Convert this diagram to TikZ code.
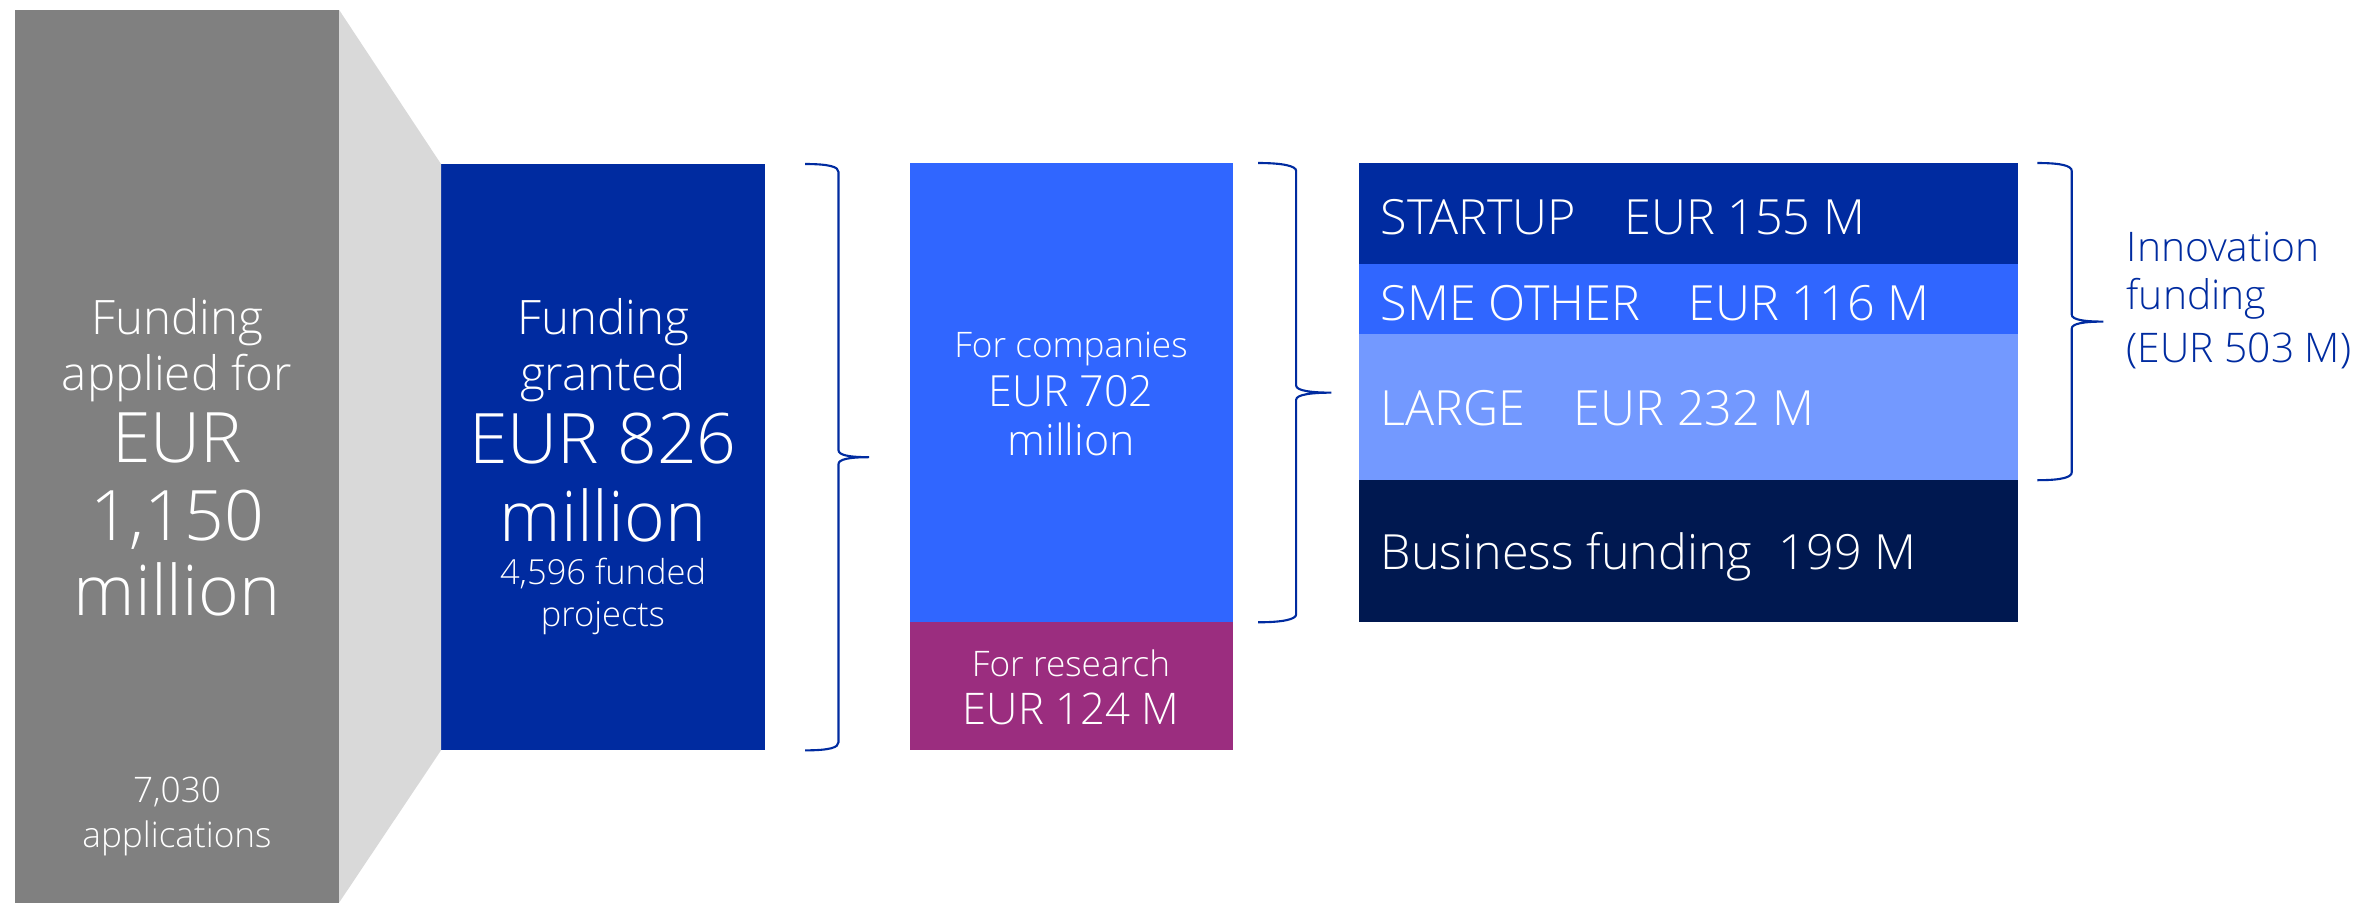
\documentclass[tikz,border=0pt]{standalone}
\usepackage{fontspec}
\setmainfont{Open Sans Light}
\usetikzlibrary{calc}
\definecolor{applgray}{HTML}{808080}
\definecolor{funnelgray}{HTML}{D9D9D9}
\definecolor{grantblue}{HTML}{002BA0}
\definecolor{compblue}{HTML}{3066FF}
\definecolor{largeblue}{HTML}{7399FF}
\definecolor{busblue}{HTML}{001850}
\definecolor{respurple}{HTML}{9B2D7F}
\def\FS#1{\fontsize{#1}{#1}\selectfont}
% brace from top point #1 to bottom point #2, tip #3 to the right
\newcommand\FundBrace[3]{%
  \draw[bracepen] let \p1=(#1), \p2=(#2), \n1={0.5*(\y1+\y2)}, \n2={\x1+0.52*#3}, \n3={\x1+#3} in
    (\p1) .. controls +(0.25cm,0) and +(0,0.05cm) .. (\n2,\y1-0.08cm)
    -- (\n2,\n1+0.07cm) .. controls +(0,-0.05cm) and +(-0.2cm,0) .. (\n3,\n1)
    .. controls +(-0.2cm,0) and +(0,0.05cm) .. (\n2,\n1-0.07cm)
    -- (\n2,\y2+0.08cm) .. controls +(0,-0.05cm) and +(0.25cm,0) .. (\p2);}

\begin{document}
\begin{tikzpicture}[x=0.01cm,y=-0.01cm,
  fundbox/.style={fill=#1,inner sep=0pt,outer sep=0pt,anchor=north west},
  wlabel/.style={text=white,inner sep=0pt,anchor=base},
  llabel/.style={text=white,inner sep=0pt,anchor=base west},
  bracepen/.style={draw=grantblue,line width=0.6pt}]
\useasboundingbox (0,0) rectangle (2367,902);
% boxes
\node[fundbox=applgray,minimum width=3.24cm,minimum height=8.92cm] (applied) at (15,10) {};
\node[fundbox=grantblue,minimum width=3.24cm,minimum height=5.86cm] (granted) at (441,164) {};
\node[fundbox=compblue,minimum width=3.23cm,minimum height=4.59cm] (companies) at (910,163) {};
\node[fundbox=respurple,minimum width=3.23cm,minimum height=1.28cm] (research) at (companies.south west) {};
\node[fundbox=grantblue,minimum width=6.59cm,minimum height=1.01cm] (startup) at (1359,163) {};
\node[fundbox=compblue,minimum width=6.59cm,minimum height=0.70cm] (sme) at (startup.south west) {};
\node[fundbox=largeblue,minimum width=6.59cm,minimum height=1.46cm] (large) at (sme.south west) {};
\node[fundbox=busblue,minimum width=6.59cm,minimum height=1.42cm] (business) at (large.south west) {};
\fill[funnelgray] (applied.north east) -- (granted.north west) -- (granted.south west) -- (applied.south east) -- cycle;
% applied for
\node[wlabel,font=\FS{13.5}] (ap1) at (177,334) {Funding};
\node[wlabel,font=\FS{13.5}] (ap2) at (177,390) {applied for};
\node[wlabel,font=\FS{19.8}] (ap3) at (177,462) {EUR};
\node[wlabel,font=\FS{19.8}] (ap4) at (177,540) {1,150};
\node[wlabel,font=\FS{19.8}] (ap5) at (177,615) {million};
\node[wlabel,font=\FS{10}] (ap6) at (177,802) {7,030};
\node[wlabel,font=\FS{10}] (ap7) at (177,847) {applications};
% granted
\node[wlabel,font=\FS{13.5}] (gr1) at (603,334) {Funding};
\node[wlabel,font=\FS{13.5}] (gr2) at (603,390) {granted};
\node[wlabel,font=\FS{19.8}] (gr3) at (603,463) {EUR 826};
\node[wlabel,font=\FS{19.8}] (gr4) at (603,541) {million};
\node[wlabel,font=\FS{9.8}] (gr5) at (603,584) {4,596 funded};
\node[wlabel,font=\FS{9.8}] (gr6) at (603,626) {projects};
% companies and research
\node[wlabel,font=\FS{10}] (co1) at (1071,357) {For companies};
\node[wlabel,font=\FS{12.2}] (co2) at (1071,406) {EUR 702};
\node[wlabel,font=\FS{12.2}] (co3) at (1071,455) {million};
\node[wlabel,font=\FS{10}] (re1) at (1071,676) {For research};
\node[wlabel,font=\FS{12.4}] (re2) at (1071,724) {EUR 124 M};
% split of company funding
\node[llabel,font=\FS{13.8}] (st) at (1380,234) {STARTUP\quad EUR 155 M};
\node[llabel,font=\FS{13.8}] (sm) at (1380,320) {SME OTHER\quad EUR 116 M};
\node[llabel,font=\FS{13.8}] (la) at (1380,425) {LARGE\quad EUR 232 M};
\node[llabel,font=\FS{13.8}] (bu) at (1380,569) {Business funding\hspace{0.55em}199 M};
% braces
\FundBrace{$(granted.north east)+(40,0)$}{$(granted.south east)+(40,0)$}{0.64cm}
\FundBrace{$(companies.north east)+(25,0)$}{$(research.north east)+(25,0)$}{0.73cm}
\FundBrace{$(startup.north east)+(19,0)$}{$(large.south east)+(19,0)$}{0.66cm}
\node[text=grantblue,inner sep=0pt,anchor=base west,font=\FS{11.6}] (in1) at (2126,261) {Innovation};
\node[text=grantblue,inner sep=0pt,anchor=base west,font=\FS{11.6}] (in2) at (2126,309) {funding};
\node[text=grantblue,inner sep=0pt,anchor=base west,font=\FS{11.6}] (in3) at (2126,362) {(EUR 503 M)};
\end{tikzpicture}
\end{document}
